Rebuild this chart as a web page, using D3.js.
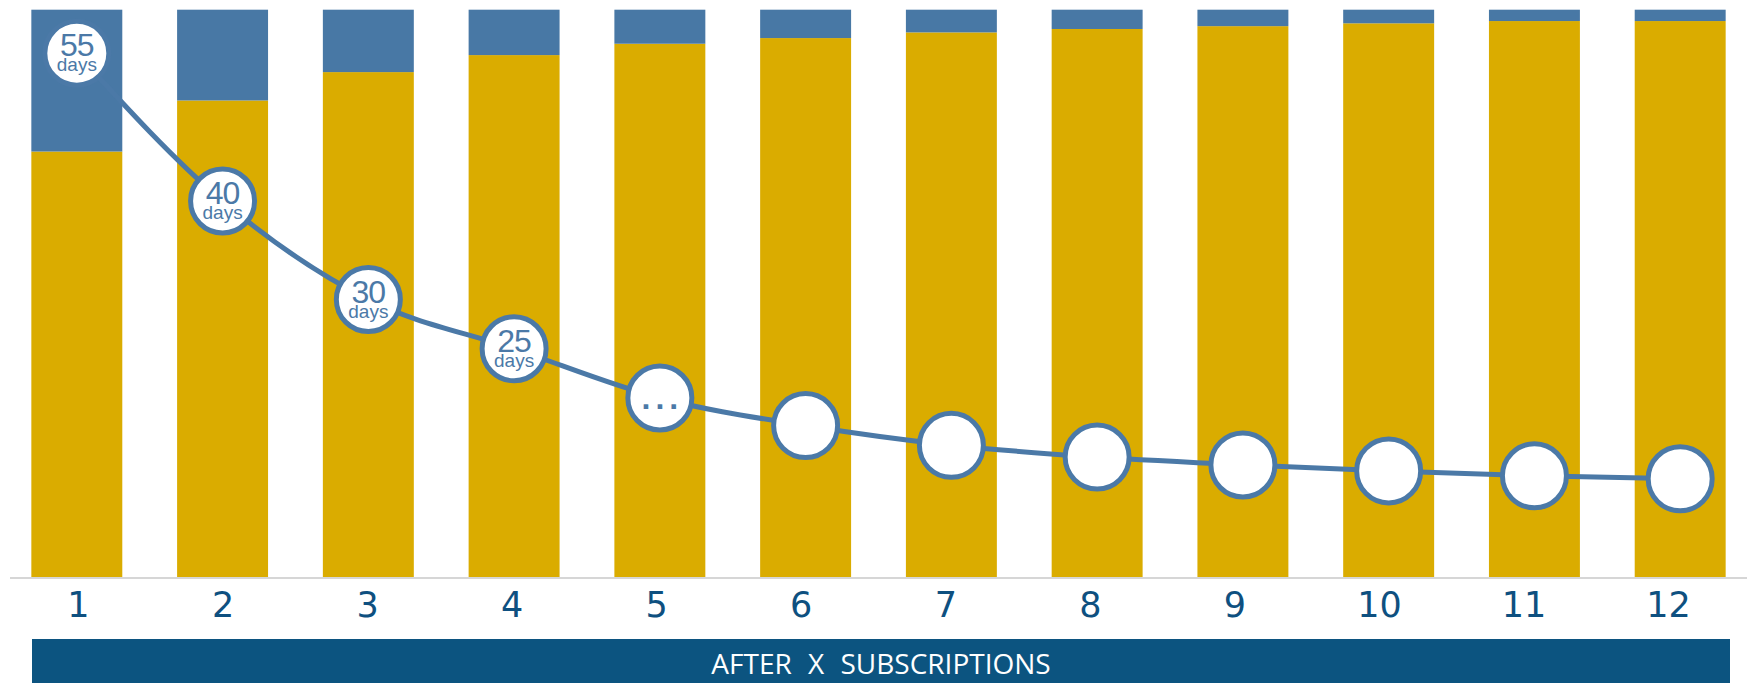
<!DOCTYPE html>
<html>
<head>
<meta charset="utf-8">
<script src="https://cdn.jsdelivr.net/npm/d3@7"></script>
<style>
  html, body { margin: 0; padding: 0; background: #ffffff; }
  svg { display: block; }
</style>
</head>
<body>
<svg id="chart" width="1747" height="683"></svg>
<script>
// Subscription number (x axis categories)
const subscriptions = ["1", "2", "3", "4", "5", "6", "7", "8", "9", "10", "11", "12"];
// Share of customers that stay (gold, bottom of each bar), percent
const retainedShare = [75, 84, 89, 92, 94, 95, 96, 96.6, 97.1, 97.6, 98, 98];
// Share of customers that drop off (blue, top of each bar), percent
const churnShare = [25, 16, 11, 8, 6, 5, 4, 3.4, 2.9, 2.4, 2, 2];
// Average days between subscriptions (line)
const daysBetween = [55, 40, 30, 25, 20, 17.2, 15.2, 14, 13.2, 12.6, 12.1, 11.8];
// Text shown inside the line markers
const dayLabels = ["55", "40", "30", "25", "...", "", "", "", "", "", "", ""];
const axisTitle = "AFTER X SUBSCRIPTIONS";

const colors = {
  retained: "#daac00",
  churn: "#4878a5",
  line: "#4b79a7",
  label: "#0e5080",
  banner: "#0c5480",
  baseline: "#d6d6d6"
};

const svg = d3.select("#chart");

// Scales
const x = d3.scaleBand()
  .domain(subscriptions)
  .range([0, 1757])
  .paddingInner(0.376)
  .paddingOuter(0.215);

const y = d3.scaleLinear().domain([0, 100]).range([577, 9.7]);
const yDays = d3.scaleLinear().domain([0, 60]).range([595, 4]);
const xLabel = d3.scalePoint().domain(subscriptions).range([78, 1668]);

const rows = subscriptions.map((s, i) => ({
  s,
  retained: retainedShare[i],
  churn: churnShare[i],
  days: daysBetween[i],
  label: dayLabels[i]
}));

const stack = d3.stack().keys(["retained", "churn"]);
const series = stack(rows);

// Stacked bars
svg.append("g")
  .selectAll("g")
  .data(series)
  .join("g")
  .attr("fill", d => colors[d.key])
  .selectAll("rect")
  .data(d => d)
  .join("rect")
  .attr("x", d => x(d.data.s))
  .attr("width", x.bandwidth())
  .attr("y", d => y(d[1]))
  .attr("height", d => y(d[0]) - y(d[1]));

// Baseline
svg.append("line")
  .attr("x1", 10).attr("x2", 1747)
  .attr("y1", y(0) + 1).attr("y2", y(0) + 1)
  .attr("stroke", colors.baseline)
  .attr("stroke-width", 2);

// Days line
const cx = d => x(d.s) + x.bandwidth() / 2;
const line = d3.line()
  .x(cx)
  .y(d => yDays(d.days))
  .curve(d3.curveMonotoneX);

svg.append("path")
  .datum(rows)
  .attr("d", line)
  .attr("fill", "none")
  .attr("stroke", colors.line)
  .attr("stroke-width", 5);

// Markers
const markers = svg.append("g")
  .selectAll("g")
  .data(rows)
  .join("g")
  .attr("transform", d => `translate(${cx(d)},${yDays(d.days)})`);

markers.append("circle")
  .attr("r", 32)
  .attr("fill", "#ffffff")
  .attr("stroke", colors.line)
  .attr("stroke-width", 5);

// Number with "days" underneath, as one text block
const numbered = markers.filter(d => d.label !== "" && d.label !== "...");
const numText = numbered.append("text")
  .attr("text-anchor", "middle")
  .attr("fill", colors.line)
  .style("font-family", "'Liberation Sans', Arial, sans-serif");
numText.append("tspan")
  .attr("x", 0).attr("y", 3)
  .style("font-size", "32px")
  .style("letter-spacing", "-1px")
  .text(d => d.label);
numText.append("tspan")
  .attr("x", 0).attr("y", 18)
  .style("font-size", "19px")
  .text("days");

markers.filter(d => d.label === "...")
  .append("text")
  .attr("text-anchor", "middle")
  .attr("x", 2.5)
  .attr("y", 11)
  .attr("fill", colors.line)
  .style("font-family", "'Liberation Sans', Arial, sans-serif")
  .style("font-size", "32px")
  .style("font-weight", "bold")
  .style("letter-spacing", "5px")
  .text(d => d.label);

// Category labels
const axis = d3.axisBottom(xLabel).tickSize(0).tickPadding(0);
const axisG = svg.append("g")
  .attr("transform", "translate(0,590)")
  .call(axis);
axisG.select(".domain").remove();
axisG.selectAll("text")
  .attr("y", 0)
  .attr("dy", "0.78em")
  .attr("fill", colors.label)
  .style("font-family", "'DejaVu Sans', sans-serif")
  .style("font-size", "35px");

// Axis title banner
svg.append("rect")
  .attr("x", 32).attr("y", 639)
  .attr("width", 1698).attr("height", 50)
  .attr("fill", colors.banner);
svg.append("text")
  .attr("x", 881).attr("y", 674)
  .attr("text-anchor", "middle")
  .attr("fill", "#ffffff")
  .style("font-family", "'Open Sans', sans-serif")
  .style("font-size", "28px")
  .style("word-spacing", "9px")
  .text(axisTitle);
</script>
</body>
</html>
